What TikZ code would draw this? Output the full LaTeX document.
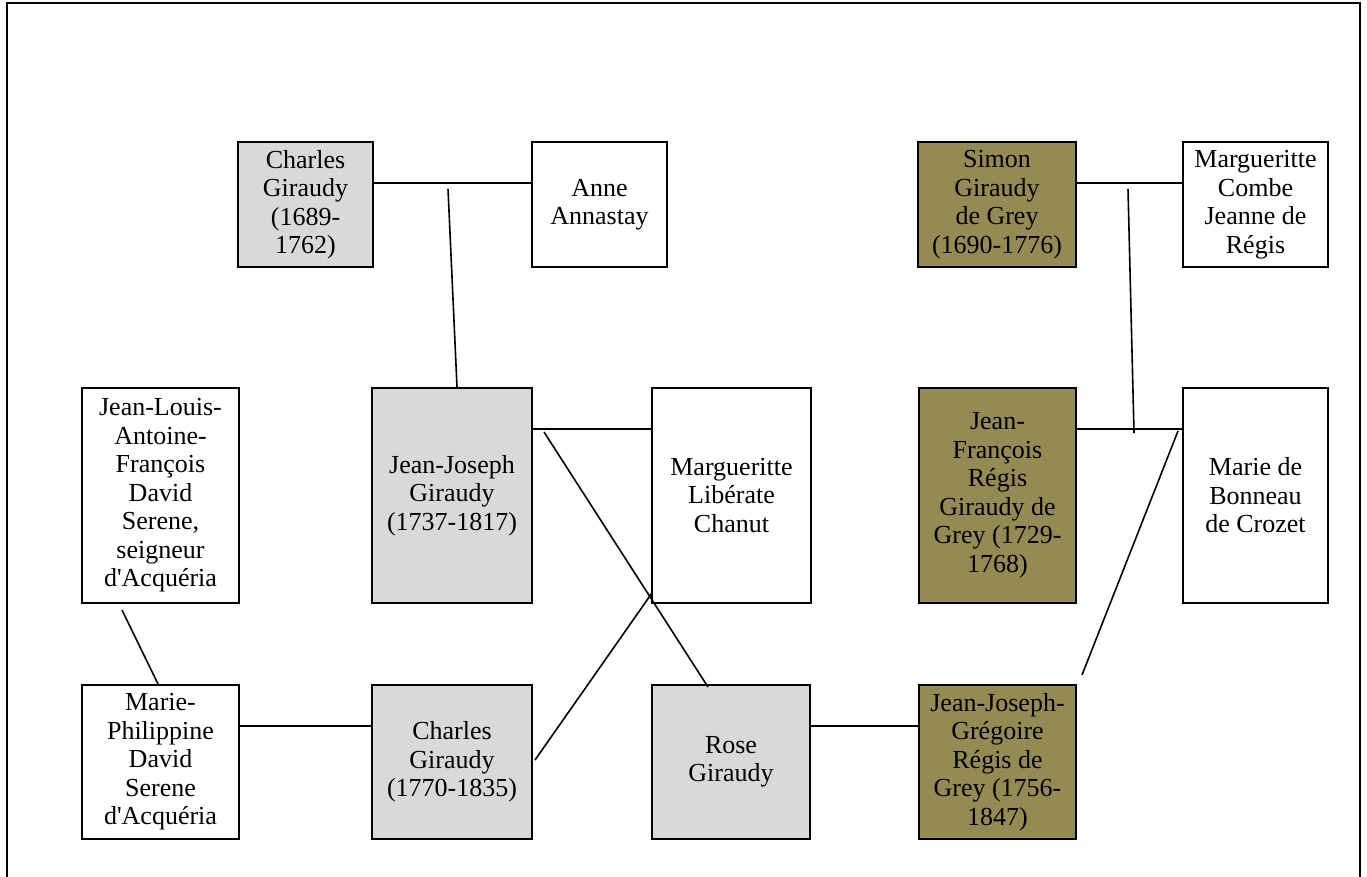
\documentclass[tikz,border=0pt]{standalone}
\usepackage{fontspec}
\setmainfont{Liberation Serif}[Ligatures=TeXOff]
\definecolor{boxgray}{HTML}{D9D9D9}
\definecolor{boxolive}{HTML}{948A54}
\begin{document}
\begin{tikzpicture}[x=1pt,y=-1pt,
  person/.style={draw=black, line width=2pt, align=center, inner sep=0pt,
    font=\fontsize{26}{28.5}\selectfont, text=black},
  grayp/.style={person, fill=boxgray},
  olivep/.style={person, fill=boxolive},
  link/.style={draw=black, line width=1.6pt}]
\useasboundingbox (0,0) rectangle (1367,877);
\draw[line width=2.6pt] (7,3) rectangle (1360,890);

% top row
\node[grayp, minimum width=135, minimum height=125] (cg) at (305.5,204.5) {Charles\\Giraudy\\(1689-\\1762)};
\node[person, minimum width=135, minimum height=125] (aa) at (599.5,204.5) {Anne\\Annastay};
\node[olivep, minimum width=158, minimum height=125] (sg) at (997,204.5) {Simon\\Giraudy\\de Grey\\(1690-1776)};
\node[person, minimum width=145, minimum height=125] (mc) at (1255.5,204.5) {Margueritte\\Combe\\Jeanne de\\Régis};

% middle row
\node[person, minimum width=157, minimum height=215] (jl) at (160.5,495.5) {Jean-Louis-\\Antoine-\\François\\David\\Serene,\\seigneur\\d'Acquéria};
\node[grayp, minimum width=160, minimum height=215] (jj) at (452,495.5) {Jean-Joseph\\Giraudy\\(1737-1817)};
\node[person, minimum width=159, minimum height=215] (ml) at (731.5,495.5) {Margueritte\\Libérate\\Chanut};
\node[olivep, minimum width=157, minimum height=215] (jf) at (997.5,495.5) {Jean-\\François\\Régis\\Giraudy de\\Grey (1729-\\1768)};
\node[person, minimum width=145, minimum height=215] (mb) at (1255.5,495.5) {Marie de\\Bonneau\\de Crozet};

% bottom row
\node[person, minimum width=157, minimum height=154] (mp) at (160.5,762) {Marie-\\Philippine\\David\\Serene\\d'Acquéria};
\node[grayp, minimum width=160, minimum height=154] (c2) at (452,762) {Charles\\Giraudy\\(1770-1835)};
\node[grayp, minimum width=158, minimum height=154] (rg) at (731,762) {Rose\\Giraudy};
\node[olivep, minimum width=157, minimum height=154] (jg) at (997.5,762) {Jean-Joseph-\\Grégoire\\Régis de\\Grey (1756-\\1847)};

% marriage lines
\draw[link] ([yshift=21.5pt]cg.east) -- ([yshift=21.5pt]aa.west);
\draw[link] ([yshift=21.5pt]sg.east) -- ([yshift=21.5pt]mc.west);
\draw[link] ([yshift=66.5pt]jj.east) -- ([yshift=66.5pt]ml.west);
\draw[link] ([yshift=66.5pt]jf.east) -- ([yshift=66.5pt]mb.west);
\draw[link] ([yshift=36pt]mp.east) -- ([yshift=36pt]c2.west);
\draw[link] ([yshift=36pt]rg.east) -- ([yshift=36pt]jg.west);

% descent lines
\coordinate (m1) at (448,189);
\coordinate (m2) at (1128,189);
\coordinate (m3) at (1134,433);
\draw[link] (m1) -- ([xshift=5pt]jj.north);
\draw[link] (m2) -- (m3);
\draw[link] ([xshift=-38.5pt,yshift=-6pt]jl.south) -- ([xshift=-2.5pt]mp.north);
\draw[link] ([xshift=11pt,yshift=-45pt]jj.north east) -- ([xshift=-23pt,yshift=-3pt]rg.north);
\draw[link] ([xshift=2pt,yshift=2pt]c2.east) -- ([xshift=1pt,yshift=11pt]ml.south west);
\draw[link] ([xshift=-4pt,yshift=-44pt]mb.north west) -- ([xshift=5pt,yshift=9pt]jg.north east);
\end{tikzpicture}
\end{document}
